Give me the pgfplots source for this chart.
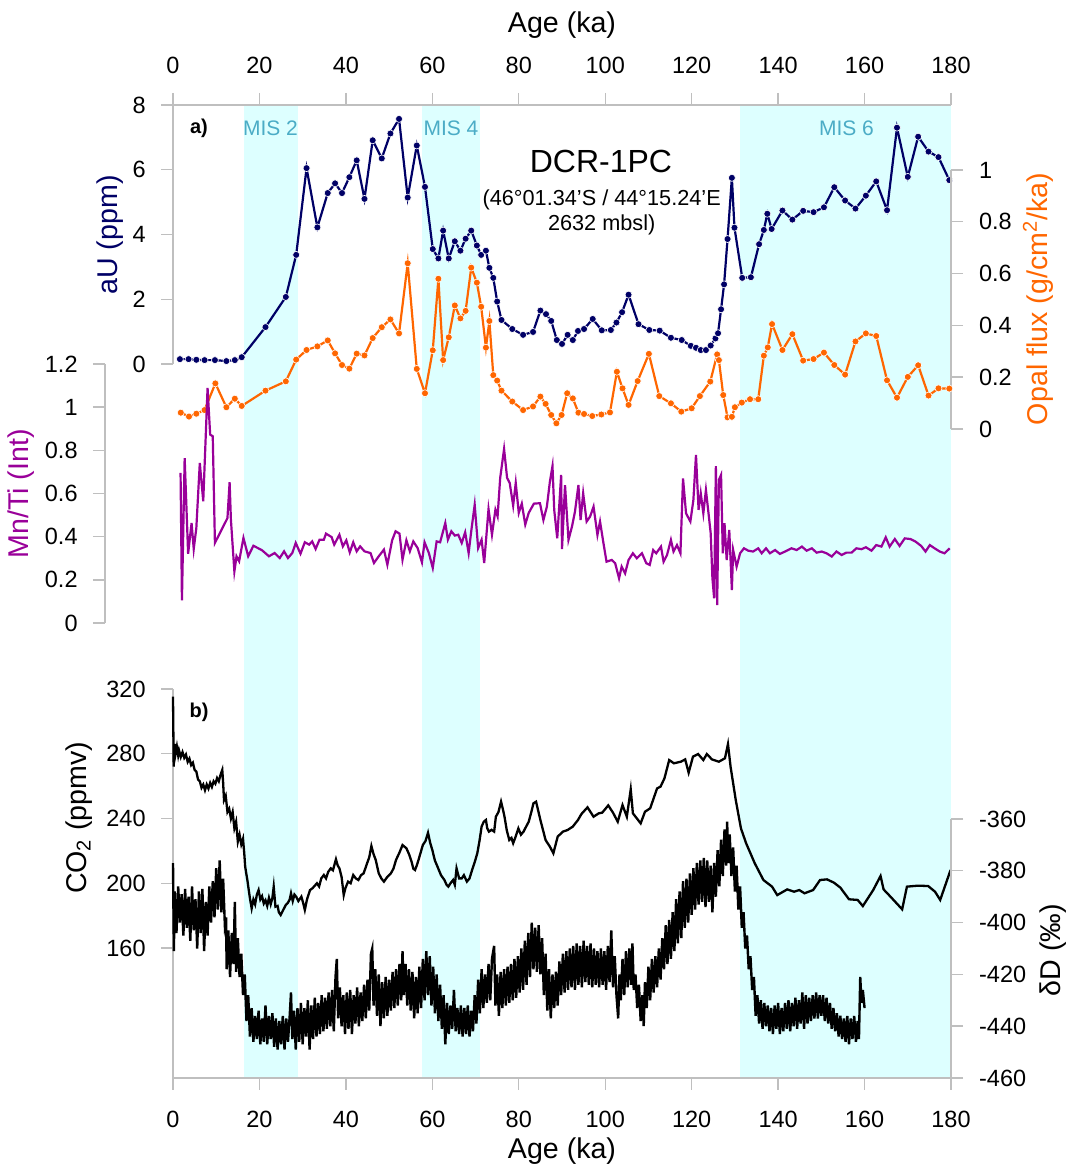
\documentclass[border=0pt]{standalone}
\usepackage{fontspec}
\setmainfont{Liberation Sans}
\usepackage{pgfplots}
\pgfplotsset{compat=1.18}
\definecolor{auc}{RGB}{0,0,102}
\definecolor{opc}{RGB}{255,102,0}
\definecolor{mnc}{RGB}{153,0,153}
\definecolor{shade}{RGB}{221,255,255}
\definecolor{misc}{RGB}{75,172,198}
\definecolor{axg}{RGB}{191,191,191}
\newcommand{\tickfont}{\fontsize{11.75}{14}\selectfont}
\newcommand{\labfont}{\fontsize{14.3}{17}\selectfont}
\pgfplotsset{
  base/.style={scale only axis, width=389pt, xmin=0, xmax=180, clip=false,
    anchor=south west,
    axis line style={draw=axg, line width=0.7pt, -},
    tick style={draw=axg, line width=0.7pt},
    major tick length=6pt, tick align=outside,
    tick label style={font=\tickfont, inner sep=0pt},
    /pgf/number format/assume math mode=true},
  lefty/.style={axis y line*=left, yticklabel style={anchor=east, xshift=-7.5pt}},
  righty/.style={axis y line*=right, yticklabel style={anchor=west, xshift=7.85pt}},
  dots/.style={#1, line width=1.1pt, mark=*, mark size=1.75pt,
    mark options={fill=#1, draw=white, line width=0.3pt}},
}
\begin{document}
\begin{tikzpicture}
\useasboundingbox (0,0) rectangle (534pt,583pt);

% MIS shading, from the top axis to the bottom axis
\begin{axis}[base, at={(86.5pt,44pt)}, height=486.5pt, ymin=0, ymax=1, hide axis]
\addplot[fill=shade, draw=none] coordinates {(16.4,1)(28.9,1)} \closedcycle;
\addplot[fill=shade, draw=none] coordinates {(57.6,1)(71.0,1)} \closedcycle;
\addplot[fill=shade, draw=none] coordinates {(131.2,1)(180,1)} \closedcycle;
\end{axis}

% aU
\begin{axis}[base, lefty, at={(86.5pt,401pt)}, height=129.5pt, ymin=0, ymax=8,
  axis x line*=top, xtick={0,20,...,180}, ytick={0,2,...,8},
  xticklabel style={anchor=south, yshift=9.5pt}]
\addplot[dots=auc] coordinates {
(1.6,0.15)(3.6,0.15)(5.4,0.13)(7.3,0.12)(9.7,0.12)(12.35,0.09)(14.3,0.12)(15.9,0.21)
(21.4,1.14)(26.1,2.07)(28.5,3.37)(30.9,6.05)(33.4,4.22)(35.8,5.28)(37.5,5.58)(39.1,5.28)
(40.8,5.77)(42.5,6.29)(44.3,5.10)(46.2,6.91)(48.3,6.35)(50.3,7.12)(52.3,7.57)(54.3,5.14)
(56.4,6.75)(58.3,5.47)(60.1,3.55)(61.4,3.26)(62.5,4.12)(63.8,3.26)(65.2,3.79)(66.5,3.50)
(67.7,3.87)(69.0,4.12)(70.3,3.66)(71.3,3.37)(72.4,3.50)(73.2,2.97)(74.1,2.66)(75.0,1.93)
(76.0,1.36)(78.5,1.08)(81.0,0.90)(83.3,0.99)(85.0,1.65)(86.3,1.54)(87.5,1.33)(88.8,0.74)
(90.0,0.62)(91.3,0.90)(92.5,0.74)(93.7,1.02)(95.1,1.08)(97.1,1.39)(99.2,1.04)(101.3,1.05)
(102.6,1.28)(103.9,1.60)(105.4,2.14)(107.7,1.23)(110.2,1.05)(112.6,1.03)(115.2,0.81)
(117.7,0.74)(119.8,0.56)(121.0,0.50)(122.1,0.43)(123.3,0.43)(124.4,0.57)(125.5,0.79)
(126.1,0.95)(126.8,1.69)(127.5,2.46)(128.3,3.86)(129.3,5.75)(129.9,4.21)(131.7,2.66)
(133.7,2.68)(135.6,3.70)(136.7,4.14)(137.5,4.64)(138.5,4.17)(141.0,4.74)(143.3,4.46)
(145.8,4.73)(148.2,4.69)(150.6,4.84)(153.0,5.46)(155.5,5.05)(157.9,4.80)(160.3,5.20)
(162.7,5.64)(165.2,4.75)(167.5,7.30)(170.0,5.78)(172.4,7.02)(174.8,6.56)(177.1,6.39)(179.6,5.68)};
\end{axis}

% Opal flux
\begin{axis}[base, righty, at={(86.5pt,368.5pt)}, height=129.5pt, ymin=0, ymax=1,
  hide x axis, ytick={0,0.2,0.4,0.6,0.8,1}]
\addplot[dots=opc] coordinates {
(1.8,0.063)(3.7,0.048)(5.4,0.059)(7.3,0.073)(9.8,0.176)(12.35,0.084)(14.3,0.117)(15.9,0.089)
(21.4,0.148)(26.1,0.184)(28.5,0.268)(30.9,0.305)(33.4,0.319)(35.8,0.342)(37.5,0.292)
(39.1,0.247)(40.8,0.233)(42.5,0.291)(44.3,0.284)(46.2,0.351)(48.3,0.393)(50.3,0.423)
(52.3,0.369)(54.3,0.640)(56.4,0.232)(58.3,0.138)(60.1,0.304)(61.4,0.580)(62.5,0.266)
(63.8,0.354)(65.2,0.477)(66.5,0.427)(67.7,0.456)(69.0,0.623)(70.3,0.565)(71.3,0.472)
(72.4,0.314)(73.2,0.417)(74.1,0.208)(75.0,0.187)(76.0,0.148)(78.5,0.106)(81.0,0.073)
(83.3,0.087)(85.0,0.125)(86.2,0.097)(87.5,0.054)(88.7,0.022)(89.9,0.054)(91.2,0.138)
(92.5,0.118)(93.8,0.063)(95.1,0.058)(97.0,0.050)(99.1,0.056)(101.1,0.064)(102.7,0.221)
(104.0,0.157)(105.4,0.093)(107.5,0.185)(110.1,0.290)(112.5,0.127)(115.2,0.099)(117.6,0.067)
(120.0,0.080)(121.9,0.127)(124.3,0.183)(125.9,0.288)(126.3,0.266)(127.3,0.131)(128.3,0.045)
(129.3,0.047)(130.0,0.084)(131.6,0.102)(133.5,0.115)(135.4,0.115)(136.7,0.283)(137.6,0.315)
(138.6,0.405)(141.0,0.305)(143.3,0.366)(145.8,0.264)(148.2,0.270)(150.6,0.295)(153.0,0.247)
(155.5,0.210)(157.9,0.338)(160.3,0.369)(162.7,0.359)(165.2,0.188)(167.5,0.121)(170.0,0.201)
(172.4,0.246)(174.8,0.129)(177.1,0.157)(179.6,0.156)};
\end{axis}

% Mn/Ti, its axis set off to the left
\begin{axis}[base, lefty, at={(52.5pt,271.5pt)}, width=423pt, height=129.5pt,
  xmin=-15.73, xmax=180, ymin=0, ymax=1.2, hide x axis,
  ytick={0,0.2,0.4,0.6,0.8,1,1.2}]
\addplot[mnc, line width=1.1pt] coordinates {
(1.75,0.695)(2.07,0.105)(2.7,0.764)(3.5,0.321)(4.3,0.463)(4.8,0.343)(5.4,0.44)(6.2,0.741)
(7.0,0.564)(8.0,1.089)(8.6,0.873)(9.2,0.865)(9.7,0.371)(12.6,0.486)(13.1,0.652)(13.4,0.479)
(14.2,0.239)(14.7,0.309)(15.3,0.286)(16.3,0.394)(17.4,0.309)(18.6,0.358)(20.6,0.337)
(22.2,0.309)(23.5,0.324)(24.7,0.301)(25.7,0.332)(26.6,0.301)(27.6,0.324)(28.4,0.371)
(29.5,0.321)(30.5,0.374)(31.5,0.363)(32.2,0.378)(33.0,0.343)(33.9,0.386)(34.9,0.386)
(35.4,0.414)(36.7,0.398)(37.3,0.363)(38.5,0.409)(39.3,0.355)(40.1,0.383)(40.9,0.327)
(41.7,0.374)(42.5,0.332)(43.3,0.355)(44.3,0.332)(45.7,0.324)(46.5,0.278)(47.6,0.309)
(48.8,0.340)(49.6,0.270)(50.7,0.383)(51.5,0.425)(52.4,0.414)(53.1,0.293)(54.0,0.383)
(54.8,0.332)(55.6,0.378)(56.6,0.347)(57.6,0.281)(58.2,0.374)(59.2,0.324)(60.1,0.255)
(61.0,0.378)(61.8,0.374)(63.0,0.463)(63.6,0.386)(64.4,0.425)(65.2,0.405)(66.0,0.409)
(66.8,0.371)(67.6,0.420)(68.4,0.324)(69.0,0.425)(69.8,0.548)(70.6,0.347)(71.4,0.386)
(72.0,0.278)(73.0,0.528)(73.8,0.409)(74.6,0.525)(75.1,0.494)(75.7,0.672)(76.6,0.806)
(77.3,0.672)(77.9,0.649)(78.7,0.544)(79.3,0.649)(80.0,0.510)(80.7,0.553)(81.5,0.456)
(82.3,0.510)(83.5,0.553)(84.9,0.555)(85.7,0.477)(86.5,0.539)(87.2,0.655)(87.8,0.727)
(88.2,0.524)(88.9,0.392)(89.8,0.686)(90.0,0.342)(90.7,0.639)(91.5,0.385)(92.3,0.446)
(93.0,0.516)(93.8,0.639)(94.3,0.477)(94.9,0.601)(95.7,0.470)(96.5,0.493)(97.3,0.539)
(98.2,0.408)(98.8,0.470)(99.6,0.369)(100.3,0.284)(101.5,0.292)(102.3,0.277)(103.2,0.207)
(103.8,0.261)(104.6,0.230)(105.4,0.292)(106.4,0.323)(107.3,0.300)(108.5,0.323)(109.5,0.277)
(110.3,0.269)(111.1,0.338)(111.8,0.323)(112.9,0.354)(113.5,0.284)(114.3,0.315)(115.2,0.385)
(115.8,0.331)(116.6,0.361)(117.4,0.323)(118.0,0.670)(118.7,0.508)(119.7,0.470)(120.4,0.570)
(121.0,0.779)(121.6,0.524)(122.1,0.601)(122.7,0.508)(123.3,0.616)(123.9,0.508)(124.4,0.416)
(124.8,0.207)(125.2,0.114)(125.6,0.727)(125.9,0.083)(126.3,0.663)(126.8,0.686)(127.2,0.323)
(127.6,0.462)(128.1,0.292)(128.7,0.431)(129.3,0.153)(129.6,0.338)(130.4,0.261)(131.2,0.323)
(132.1,0.346)(133.1,0.335)(134.2,0.331)(135.4,0.346)(136.2,0.323)(137.2,0.346)(138.1,0.323)
(139.3,0.338)(140.4,0.320)(141.6,0.331)(143.1,0.346)(144.3,0.338)(145.5,0.354)(146.6,0.335)
(147.8,0.346)(148.9,0.326)(150.1,0.331)(151.2,0.323)(152.4,0.308)(153.5,0.331)(154.7,0.315)
(155.8,0.326)(157.0,0.326)(158.1,0.346)(159.3,0.342)(160.3,0.351)(161.6,0.335)(162.7,0.361)
(163.9,0.354)(164.9,0.397)(165.8,0.354)(167.0,0.389)(168.1,0.357)(169.3,0.392)(170.6,0.389)
(171.8,0.377)(173.1,0.357)(174.1,0.331)(175.1,0.361)(176.2,0.346)(177.4,0.331)(178.5,0.323)
(179.7,0.346)};
\end{axis}

% CO2
\begin{axis}[base, lefty, at={(86.5pt,44pt)}, height=194.5pt, ymin=79.7, ymax=320,
  axis x line*=bottom, xtick={0,20,...,180}, ytick={160,200,...,320},
  xticklabel style={anchor=north, yshift=-10.4pt}]
\addplot[black, line width=1.15pt] coordinates {
(0,315.3)(0.16,272)(0.4,286)(0.6,280)(0.9,284.4)(1.2,279)(1.4,282)(1.8,278)(2.2,281)
(2.6,277.5)(3.0,279.5)(3.4,275)(3.8,277)(4.2,273)(4.6,274.5)(5.0,270)(5.4,269)(5.8,264)
(6.2,263)(6.6,259)(7.0,261)(7.4,257.5)(7.8,261)(8.2,258.5)(8.6,262)(9.0,259.5)(9.4,263)
(9.8,261.5)(10.2,265)(10.6,263)(11.0,267)(11.4,270)(11.6,262)(11.8,251.4)(12.2,254)
(12.6,244)(13.0,246)(13.4,240)(13.8,244)(14.2,234)(14.6,238)(15.0,225.7)(15.4,230)
(15.8,224)(16.2,227.5)(16.5,218)(16.7,210.2)(17.2,202)(17.8,190.7)(18.2,184.5)(18.6,190)
(19.0,187)(19.4,193)(19.8,195.8)(20.2,190)(20.6,192)(21.0,187.5)(21.4,189.5)(21.8,186)
(22.2,191)(22.6,187)(23.0,191)(23.3,197.9)(23.7,185.5)(24.2,186)(24.5,182)(24.9,180.4)
(25.4,183)(26.1,186.6)(26.6,188)(27.0,190)(27.3,193.8)(27.7,189)(28.1,193)(28.5,191.7)
(29.0,189)(29.7,191.7)(30.1,188)(30.5,183.5)(31.0,190)(31.7,195.8)(32.3,197)(33.3,200)
(33.8,198)(34.3,203)(34.9,205.1)(35.4,203)(35.9,207)(36.5,209.2)(37.0,208)(37.7,214.8)
(38.1,211)(38.5,209.2)(39.0,204)(39.5,192.7)(39.9,197)(40.5,201)(41.1,200)(41.7,205.1)
(42.3,203)(42.9,202)(43.5,205)(44.1,206.1)(44.9,212.3)(45.4,216)(45.9,223)(46.4,218)
(46.9,214.4)(47.6,206.1)(48.2,203)(48.8,201)(49.6,204)(50.4,206.1)(51.0,209)(51.6,214.4)
(52.4,219)(53.1,223.6)(54.0,221.6)(54.6,218)(55.2,213.3)(55.6,209)(56.0,208.2)(56.4,211)
(56.8,214.4)(57.3,219)(57.8,223.6)(58.4,226)(59.0,231.2)(59.5,225)(60.0,220.5)(60.6,214)
(61.2,210.2)(62.0,205)(62.8,202)(63.3,199)(63.7,197.9)(64.2,200)(64.8,202)(65.2,199)
(65.6,209.2)(66.2,203)(66.8,203)(67.3,205)(68.0,201)(68.6,203)(69.2,208.2)(69.8,213)
(70.4,218.5)(70.9,226)(71.4,235)(71.9,238)(72.4,239.1)(72.7,234)(73.1,231.9)(73.7,233)
(74.3,231.9)(74.7,241.1)(75.3,244)(75.9,250.4)(76.3,246)(76.7,241.1)(77.2,233)(77.8,226.7)
(78.3,228)(78.7,224.7)(79.3,229)(79.9,233.9)(80.5,230)(81.1,231.9)(81.7,235)(82.3,238)
(82.9,244)(83.4,249.4)(84.0,250.4)(85.0,239.1)(86.2,226.7)(87.2,222.6)(88.0,218.5)
(89.0,228.8)(90.2,231.9)(91.3,232.9)(92.5,235)(93.7,239.1)(94.5,242.8)(95.9,246.9)
(97.3,241.1)(98.5,243.2)(99.3,243.6)(100.7,248.1)(101.8,243.6)(102.9,238)(104.0,248.3)
(105.0,241.1)(105.9,258)(106.4,243.2)(108.2,237)(109.2,244.2)(110.4,246.3)(112.0,258.6)
(112.8,259.7)(113.7,264.8)(114.8,276.1)(115.9,274.1)(117.5,275.1)(118.5,276.5)(119.3,268.3)
(120.3,278.2)(121.5,279.8)(122.7,276.1)(123.5,279.8)(124.7,276.5)(126.3,275.1)(127.7,277.2)
(128.4,286)(129.0,272)(130.2,251.4)(131.4,233.9)(132.6,224.7)(134.6,212.3)(136.6,202)
(138.6,197.9)(139.8,192.7)(142.1,196.2)(143.7,194.8)(144.9,195.8)(146.1,193.8)(148.1,195.8)
(149.7,202)(151.3,202.4)(152.9,200.4)(154.4,197.3)(156.4,190.1)(158.4,189.7)(159.6,185.9)
(162.0,195.8)(163.7,204.5)(164.4,196.2)(166.0,191.7)(168.7,183.9)(169.8,197.9)(172.3,198.5)
(174.7,198.3)(176.3,194.8)(177.5,189.7)(179.9,208.2)};
\end{axis}

% deltaD
\begin{axis}[base, righty, at={(86.5pt,44pt)}, height=129.5pt, ymin=-460, ymax=-360,
  hide x axis, ytick={-460,-440,...,-360}]
\addplot[black, line width=1.2pt] coordinates {
(0,-377)(0.2,-411)(0.4,-388)(0.8,-404)(1.2,-386)(1.6,-400)(2.0,-389)(2.4,-405)(2.8,-387)
(3.2,-402)(3.6,-390)(4.0,-407)(4.4,-386)(4.8,-403)(5.2,-391)(5.6,-410)(6.0,-388)(6.4,-404)
(6.8,-387)(7.2,-411)(7.6,-392)(8.0,-405)(8.4,-386)(8.8,-400)(9.2,-384)(9.6,-398)(10.0,-379)
(10.4,-395)(10.8,-376)(11.2,-396)(11.6,-383)(12.0,-401)(12.3,-398)(12.4,-418)(12.8,-403)
(13.2,-421)(13.6,-404)(14.0,-416)(14.3,-392)(14.6,-419)(15.0,-406)(15.4,-421)(15.8,-412)
(16.2,-428)(16.6,-420)(17.0,-438)(17.4,-428)(17.8,-444)(18.2,-433)(18.6,-446)(19.0,-436)
(19.4,-445)(19.8,-434)(20.2,-447)(20.6,-437)(21.0,-446)(21.4,-432)(21.8,-447)(22.2,-436)
(22.6,-445)(23.0,-435)(23.4,-448)(23.8,-437)(24.2,-449)(24.6,-438)(25.0,-447)(25.4,-436)
(25.8,-449)(26.2,-437)(26.6,-446)(27.0,-436)(27.3,-427)(27.6,-445)(28.0,-434)(28.4,-449)
(28.8,-433)(29.2,-446)(29.6,-431)(30.0,-447)(30.4,-433)(30.8,-444)(31.2,-430)(31.6,-449)
(32.0,-432)(32.4,-445)(32.8,-429)(33.2,-444)(33.6,-431)(34.0,-443)(34.4,-428)(34.8,-442)
(35.2,-429)(35.6,-441)(36.0,-427)(36.4,-440)(36.8,-426)(37.2,-442)(37.6,-421)(37.9,-414)
(38.2,-437)(38.6,-425)(39.0,-440)(39.4,-428)(39.8,-443)(40.2,-427)(40.6,-441)(41.0,-426)
(41.4,-443)(41.8,-428)(42.2,-439)(42.6,-425)(43.0,-440)(43.4,-427)(43.8,-438)(44.2,-424)
(44.6,-437)(45.0,-422)(45.4,-434)(45.8,-412)(46.1,-410)(46.4,-432)(46.8,-418)(47.2,-436)
(47.6,-420)(48.0,-440)(48.4,-423)(48.8,-437)(49.2,-421)(49.6,-436)(50.0,-422)(50.4,-434)
(50.8,-419)(51.2,-433)(51.6,-418)(52.0,-432)(52.4,-416)(52.8,-430)(53.1,-411)(53.4,-428)
(53.8,-416)(54.2,-432)(54.6,-418)(55.0,-434)(55.4,-419)(55.8,-437)(56.2,-421)(56.6,-435)
(57.0,-417)(57.4,-433)(57.8,-414)(58.2,-430)(58.6,-411)(59.0,-428)(59.4,-413)(59.8,-432)
(60.2,-417)(60.6,-435)(61.0,-420)(61.4,-438)(61.8,-424)(62.2,-441)(62.6,-428)(63.0,-447)
(63.4,-431)(63.8,-443)(64.2,-432)(64.6,-441)(65.0,-426)(65.4,-442)(65.8,-433)(66.2,-443)
(66.6,-432)(67.0,-444)(67.4,-433)(67.8,-443)(68.2,-432)(68.6,-444)(69.0,-434)(69.4,-442)
(69.8,-428)(70.2,-439)(70.6,-422)(71.0,-435)(71.4,-418)(71.8,-433)(72.2,-420)(72.6,-431)
(73.0,-416)(73.4,-430)(73.8,-414)(74.3,-409)(74.6,-432)(75.0,-420)(75.4,-436)(75.8,-419)
(76.2,-433)(76.6,-418)(77.0,-432)(77.4,-417)(77.8,-431)(78.2,-416)(78.6,-430)(79.0,-414)
(79.4,-429)(79.8,-413)(80.2,-427)(80.6,-410)(81.0,-426)(81.4,-407)(81.8,-424)(82.2,-404)
(82.6,-421)(83.0,-400)(83.4,-418)(83.8,-402)(84.2,-419)(84.6,-401)(85.0,-420)(85.4,-406)
(85.8,-428)(86.2,-412)(86.6,-434)(87.0,-418)(87.4,-437)(87.8,-420)(88.2,-433)(88.6,-419)
(89.0,-432)(89.4,-415)(89.8,-428)(90.2,-412)(90.6,-427)(91.0,-411)(91.4,-426)(91.8,-410)
(92.2,-425)(92.6,-409)(93.0,-426)(93.4,-408)(93.8,-424)(94.2,-409)(94.6,-425)(95.0,-407)
(95.4,-423)(95.8,-409)(96.2,-424)(96.6,-408)(97.0,-425)(97.4,-410)(97.8,-424)(98.2,-411)
(98.6,-425)(99.0,-410)(99.4,-424)(99.8,-411)(100.2,-426)(100.6,-409)(101.0,-423)(101.4,-403)
(101.8,-425)(102.2,-413)(102.6,-428)(103.0,-437)(103.3,-420)(103.6,-430)(104.0,-414)
(104.4,-428)(104.8,-411)(105.2,-425)(105.6,-410)(106.0,-424)(106.3,-408)(106.6,-426)
(107.0,-420)(107.4,-433)(107.8,-424)(108.2,-438)(108.6,-428)(108.9,-440)(109.2,-423)
(109.6,-433)(110.0,-417)(110.4,-430)(110.8,-414)(111.2,-427)(111.6,-413)(112.0,-425)
(112.4,-410)(112.8,-422)(113.2,-406)(113.6,-418)(114.0,-401)(114.4,-416)(114.8,-399)
(115.2,-414)(115.6,-396)(116.0,-411)(116.4,-391)(116.8,-408)(117.2,-388)(117.6,-406)
(118.0,-384)(118.4,-402)(118.8,-383)(119.2,-400)(119.6,-381)(120.0,-397)(120.4,-379)
(120.8,-395)(121.2,-377)(121.6,-393)(122.0,-376)(122.4,-392)(122.8,-375)(123.2,-394)
(123.6,-376)(124.0,-392)(124.4,-378)(124.8,-396)(125.2,-377)(125.6,-390)(126.0,-372)
(126.4,-386)(126.8,-368)(127.2,-382)(127.6,-364)(128.0,-378)(128.2,-361)(128.5,-377)
(128.8,-366)(129.2,-382)(129.6,-371)(130.0,-388)(130.4,-378)(130.8,-395)(131.2,-386)
(131.6,-402)(132.0,-396)(132.4,-410)(132.8,-405)(133.2,-418)(133.6,-413)(134.0,-426)
(134.4,-421)(134.8,-436)(135.2,-428)(135.6,-439)(136.0,-430)(136.4,-441)(136.8,-431)
(137.2,-440)(137.6,-432)(138.0,-442)(138.4,-433)(138.8,-443)(139.2,-432)(139.6,-441)
(140.0,-431)(140.4,-443)(140.8,-433)(141.2,-442)(141.6,-431)(142.0,-441)(142.4,-430)
(142.8,-442)(143.2,-431)(143.6,-440)(144.0,-429)(144.4,-441)(144.8,-430)(145.2,-439)
(145.6,-427)(146.0,-441)(146.4,-428)(146.8,-439)(147.2,-429)(147.6,-438)(148.0,-428)
(148.4,-437)(148.8,-427)(149.2,-437)(149.6,-428)(150.0,-436)(150.4,-428)(150.8,-438)
(151.2,-429)(151.6,-439)(152.0,-431)(152.4,-441)(152.8,-433)(153.2,-442)(153.6,-435)
(154.0,-444)(154.4,-436)(154.8,-445)(155.2,-437)(155.6,-446)(156.0,-436)(156.4,-447)
(156.8,-437)(157.2,-445)(157.6,-436)(158.0,-446)(158.4,-438)(158.7,-445)(159.0,-421)
(159.3,-431)(159.6,-426)(160.0,-433)};
\end{axis}

% texts
\node[font=\labfont, anchor=base] at (281pt,566.5pt) {Age (ka)};
\node[font=\labfont, anchor=base] at (281pt,3.5pt) {Age (ka)};
\node[font=\labfont, text=auc, rotate=90] at (55pt,465.5pt) {aU (ppm)};
\node[font=\labfont, text=mnc, rotate=90] at (10.5pt,336pt) {Mn/Ti (Int)};
\node[font=\labfont, text=opc, rotate=90] at (519pt,433.5pt) {Opal flux (g/cm\textsuperscript{2}/ka)};
\node[font=\labfont, rotate=90] at (39.5pt,174pt) {CO\textsubscript{2} (ppmv)};
\node[font=\labfont, rotate=90] at (526.5pt,108pt) {δD (‰)};
\node[font=\fontsize{10}{12}\selectfont\bfseries] at (99.5pt,519pt) {a)};
\node[font=\fontsize{10}{12}\selectfont\bfseries] at (99.5pt,227pt) {b)};
\node[font=\fontsize{10.5}{12}\selectfont, text=misc] at (135.25pt,519pt) {MIS 2};
\node[font=\fontsize{10.5}{12}\selectfont, text=misc] at (225.5pt,519pt) {MIS 4};
\node[font=\fontsize{10.5}{12}\selectfont, text=misc] at (423.25pt,519pt) {MIS 6};
\node[font=\fontsize{16}{19}\selectfont] at (300.5pt,502pt) {DCR-1PC};
\node[font=\fontsize{10.85}{12.5}\selectfont, align=center] at (300.85pt,476.75pt)
  {(46°01.34{\char"27}S / 44°15.24{\char"27}E\\2632 mbsl)};
\end{tikzpicture}
\end{document}
